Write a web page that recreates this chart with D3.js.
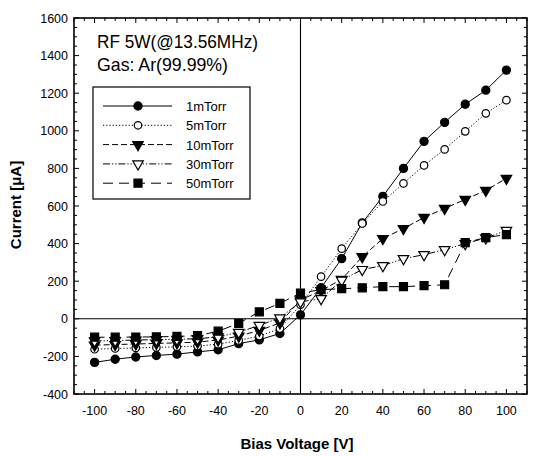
<!DOCTYPE html>
<html>
<head>
<meta charset="utf-8">
<script src="https://cdn.jsdelivr.net/npm/d3@7"></script>
<style>
  body { margin: 0; background: #fff; }
  svg { display: block; }
  .tick-label { font-family: "Liberation Sans", Arial, sans-serif; font-size: 12.5px; fill: #000; }
  .axis-title { font-family: "Liberation Sans", Arial, sans-serif; font-weight: bold; font-size: 15px; fill: #000; }
  .note { font-family: "Liberation Sans", Arial, sans-serif; font-size: 19px; fill: #000; }
  .legend-label { font-family: "Liberation Sans", Arial, sans-serif; font-size: 13px; fill: #000; }
</style>
</head>
<body>
<svg width="538" height="456"></svg>
<script>
// bias voltage points (V)
const voltages = [-100, -90, -80, -70, -60, -50, -40, -30, -20, -10, 0, 10, 20, 30, 40, 50, 60, 70, 80, 90, 100];

// probe current (uA)
const current_1mTorr  = [-232, -215, -203, -195, -188, -176, -165, -132, -112, -78, 21, 165, 320, 510, 651, 800, 944, 1045, 1141, 1216, 1323];
const current_5mTorr  = [-162, -158, -155, -152, -149, -145, -135, -115, -92, -52, 75, 224, 373, 507, 624, 720, 816, 901, 997, 1093, 1163];
const current_10mTorr = [-140, -137, -134, -131, -128, -124, -113, -92, -62, -22, 100, 150, 210, 330, 427, 480, 539, 587, 635, 683, 747];
const current_30mTorr = [-118, -116, -113, -111, -109, -106, -96, -72, -35, 5, 90, 107, 205, 262, 283, 320, 341, 368, 400, 430, 470];
const current_50mTorr = [-98, -98, -97, -96, -94, -90, -66, -24, 37, 82, 137, 155, 160, 165, 171, 171, 176, 181, 405, 432, 448];

const series_names = ["1mTorr", "5mTorr", "10mTorr", "30mTorr", "50mTorr"];

const x_ticks = [-100, -80, -60, -40, -20, 0, 20, 40, 60, 80, 100];
const y_ticks = [-400, -200, 0, 200, 400, 600, 800, 1000, 1200, 1400, 1600];

const note_lines = ["RF 5W(@13.56MHz)", "Gas: Ar(99.99%)"];

const vis = {

    dims : { left: 74, right: 527, top: 18, bottom: 394 },

    // one style per series, same order as series_names
    styles : [
        { dash: null,              symbol: d3.symbolCircle,   size: 52, filled: true,  flip: false },
        { dash: "1.2,2",           symbol: d3.symbolCircle,   size: 44, filled: false, flip: false },
        { dash: "6,3",             symbol: d3.symbolTriangle, size: 48, filled: true,  flip: true  },
        { dash: "7,2,1.2,2,1.2,2", symbol: d3.symbolTriangle, size: 48, filled: false, flip: true  },
        { dash: "10,6",            symbol: d3.symbolSquare,   size: 64, filled: true,  flip: false }
    ],

    // widths the note lines take in the picture (condensed type)
    note_widths : [161, 131],

    scales : {},

    init : function() {

        const svg = d3.select("svg");
        const d = vis.dims;

        vis.scales.x = d3.scaleLinear().domain([-110, 110]).range([d.left, d.right]);
        vis.scales.y = d3.scaleLinear().domain([-400, 1600]).range([d.bottom, d.top]);

        const x = vis.scales.x, y = vis.scales.y;

        // frame
        svg.append("rect")
          .attr("x", d.left).attr("y", d.top)
          .attr("width", d.right - d.left).attr("height", d.bottom - d.top)
          .attr("fill", "none").attr("stroke", "#000").attr("stroke-width", 1.6);

        // inward ticks on all four sides
        const g = svg.append("g").attr("stroke", "#000").attr("stroke-width", 1);
        d3.range(-110, 111, 5).forEach(v => {
            const len = v % 20 === 0 ? 5 : 3;
            g.append("line").attr("x1", x(v)).attr("x2", x(v)).attr("y1", d.bottom).attr("y2", d.bottom - len);
            g.append("line").attr("x1", x(v)).attr("x2", x(v)).attr("y1", d.top).attr("y2", d.top + len);
        });
        d3.range(-400, 1601, 50).forEach(v => {
            const len = v % 200 === 0 ? 5 : 3;
            g.append("line").attr("y1", y(v)).attr("y2", y(v)).attr("x1", d.left).attr("x2", d.left + len);
            g.append("line").attr("y1", y(v)).attr("y2", y(v)).attr("x1", d.right).attr("x2", d.right - len);
        });

        // tick labels
        svg.selectAll(".xl").data(x_ticks).join("text")
          .attr("class", "tick-label")
          .attr("x", v => x(v)).attr("y", d.bottom + 21)
          .attr("text-anchor", "middle")
          .text(v => v);

        svg.selectAll(".yl").data(y_ticks).join("text")
          .attr("class", "tick-label")
          .attr("x", d.left - 6).attr("y", v => y(v) + 4.5)
          .attr("text-anchor", "end")
          .text(v => v);

        // zero lines
        svg.append("line")
          .attr("x1", x(0)).attr("x2", x(0)).attr("y1", d.top).attr("y2", d.bottom)
          .attr("stroke", "#000").attr("stroke-width", 1.1);
        svg.append("line")
          .attr("x1", d.left).attr("x2", d.right).attr("y1", y(0)).attr("y2", y(0))
          .attr("stroke", "#000").attr("stroke-width", 1.1);

        // axis titles
        svg.append("text").attr("class", "axis-title")
          .attr("x", 297).attr("y", 449).attr("text-anchor", "middle")
          .text("Bias Voltage [V]");
        svg.append("text").attr("class", "axis-title")
          .attr("transform", "translate(21,205) rotate(-90)").attr("text-anchor", "middle")
          .text("Current [μA]");

        // note
        svg.selectAll(".note").data(note_lines).join("text")
          .attr("class", "note")
          .attr("x", 97).attr("y", (t, i) => 48 + i * 23)
          .attr("textLength", (t, i) => vis.note_widths[i])
          .attr("lengthAdjust", "spacingAndGlyphs")
          .text(t => t);

        vis.draw_series(svg);
        vis.draw_legend(svg);

    },

    marker : function(sel, st) {
        sel.attr("d", d3.symbol().type(st.symbol).size(st.size))
          .attr("fill", st.filled ? "#000" : "#fff")
          .attr("stroke", "#000").attr("stroke-width", 1.2);
    },

    draw_series : function(svg) {

        const all = [current_1mTorr, current_5mTorr, current_10mTorr, current_30mTorr, current_50mTorr];
        const line = d3.line().x(p => vis.scales.x(p[0])).y(p => vis.scales.y(p[1]));

        all.forEach((vals, i) => {
            const st = vis.styles[i];
            const pts = voltages.map((v, k) => [v, vals[k]]);
            svg.append("path")
              .attr("d", line(pts))
              .attr("fill", "none").attr("stroke", "#000").attr("stroke-width", 1)
              .attr("stroke-dasharray", st.dash);
            svg.append("g").selectAll("path").data(pts).join("path")
              .attr("transform", p => `translate(${vis.scales.x(p[0])},${vis.scales.y(p[1])})` + (st.flip ? " rotate(180)" : ""))
              .call(vis.marker, st);
        });

    },

    draw_legend : function(svg) {

        const box = { x: 93, y: 87, w: 157, h: 112 };
        svg.append("rect")
          .attr("x", box.x).attr("y", box.y).attr("width", box.w).attr("height", box.h)
          .attr("fill", "#fff").attr("stroke", "#000").attr("stroke-width", 1.2);

        series_names.forEach((name, i) => {
            const st = vis.styles[i];
            const cy = 106 + i * 19.3;
            svg.append("line")
              .attr("x1", 103).attr("x2", 172).attr("y1", cy).attr("y2", cy)
              .attr("stroke", "#000").attr("stroke-width", 1)
              .attr("stroke-dasharray", st.dash);
            svg.append("path")
              .attr("transform", `translate(138,${cy})` + (st.flip ? " rotate(180)" : ""))
              .call(vis.marker, st);
            svg.append("text").attr("class", "legend-label")
              .attr("x", 186).attr("y", cy + 5)
              .text(name);
        });

    }

};

vis.init();
</script>
</body>
</html>
